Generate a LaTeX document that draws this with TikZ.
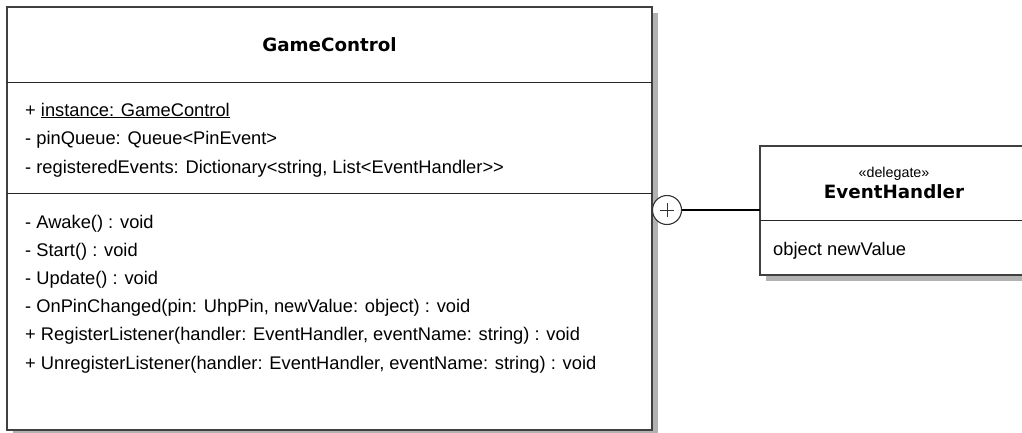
\documentclass[tikz,border=0pt]{standalone}
\usepackage{fontspec}
\setmainfont{Liberation Sans}
\newfontfamily\titlefont{DejaVu Sans}
\usetikzlibrary{shadows}
\tikzset{
  umlbox/.style={draw=black!75, line width=1.4pt, fill=white, inner sep=0pt, outer sep=0pt,
    general shadow={fill=black!30, shadow xshift=6pt, shadow yshift=-6pt}},
  sep/.style={draw=black!85, line width=1pt},
  member/.style={anchor=base west, inner sep=0pt, font=\fontsize{18.3}{18.3}\selectfont},
  classname/.style={anchor=base, inner sep=0pt, font=\titlefont\bfseries\fontsize{18.3}{18.3}\selectfont},
  stereo/.style={anchor=base, inner sep=0pt, font=\fontsize{14.3}{14.3}\selectfont},
  nest/.style={circle, draw=black!80, line width=1.1pt, fill=white, minimum size=29pt, inner sep=0pt,
    path picture={\draw[line width=1pt] (path picture bounding box.center) +(-7pt,0) -- +(7pt,0)
      (path picture bounding box.center) +(0,-7pt) -- +(0,7pt);}},
  link/.style={draw=black, line width=1.1pt}
}
\begin{document}
\begin{tikzpicture}[x=1pt,y=-1pt]
\useasboundingbox (0,0) rectangle (1022,432);
\node[umlbox, minimum width=645pt, minimum height=423pt] (gc) at (329.5,218.5) {};
\node[classname] (gcname) at (329.5,51) {GameControl};
\draw[sep] ([yshift=-75pt]gc.north west) -- ([yshift=-75pt]gc.north east);
\draw[sep] ([yshift=-186pt]gc.north west) -- ([yshift=-186pt]gc.north east);
\foreach \y/\t [count=\i] in {116/{+ \underline{instance: GameControl}},
    144/{- pinQueue: Queue<PinEvent>},
    173/{- registeredEvents: Dictionary<string, List<EventHandler>{}>}} {
  \node[member] (attr\i) at (25,\y) {\t};
}
\foreach \y/\t [count=\i] in {228/{- Awake() : void},
    256/{- Start() : void},
    284/{- Update() : void},
    312/{- OnPinChanged(pin: UhpPin, newValue: object) : void},
    340/{+ RegisterListener(handler: EventHandler, eventName: string) : void},
    369/{+ UnregisterListener(handler: EventHandler, eventName: string) : void}} {
  \node[member] (op\i) at (25,\y) {\t};
}
\node[umlbox, minimum width=268pt, minimum height=129pt] (eh) at (894,210.5) {};
\node[stereo] (ehstereo) at (894,177) {«delegate»};
\node[classname] (ehname) at (894,198) {EventHandler};
\draw[sep] ([yshift=-74pt]eh.north west) -- ([yshift=-74pt]eh.north east);
\node[member] (ehfield) at (773,255) {object newValue};
\node[nest] (inner) at (667,210) {};
\draw[link] (inner.east) -- (inner.east -| eh.west);
\end{tikzpicture}
\end{document}
